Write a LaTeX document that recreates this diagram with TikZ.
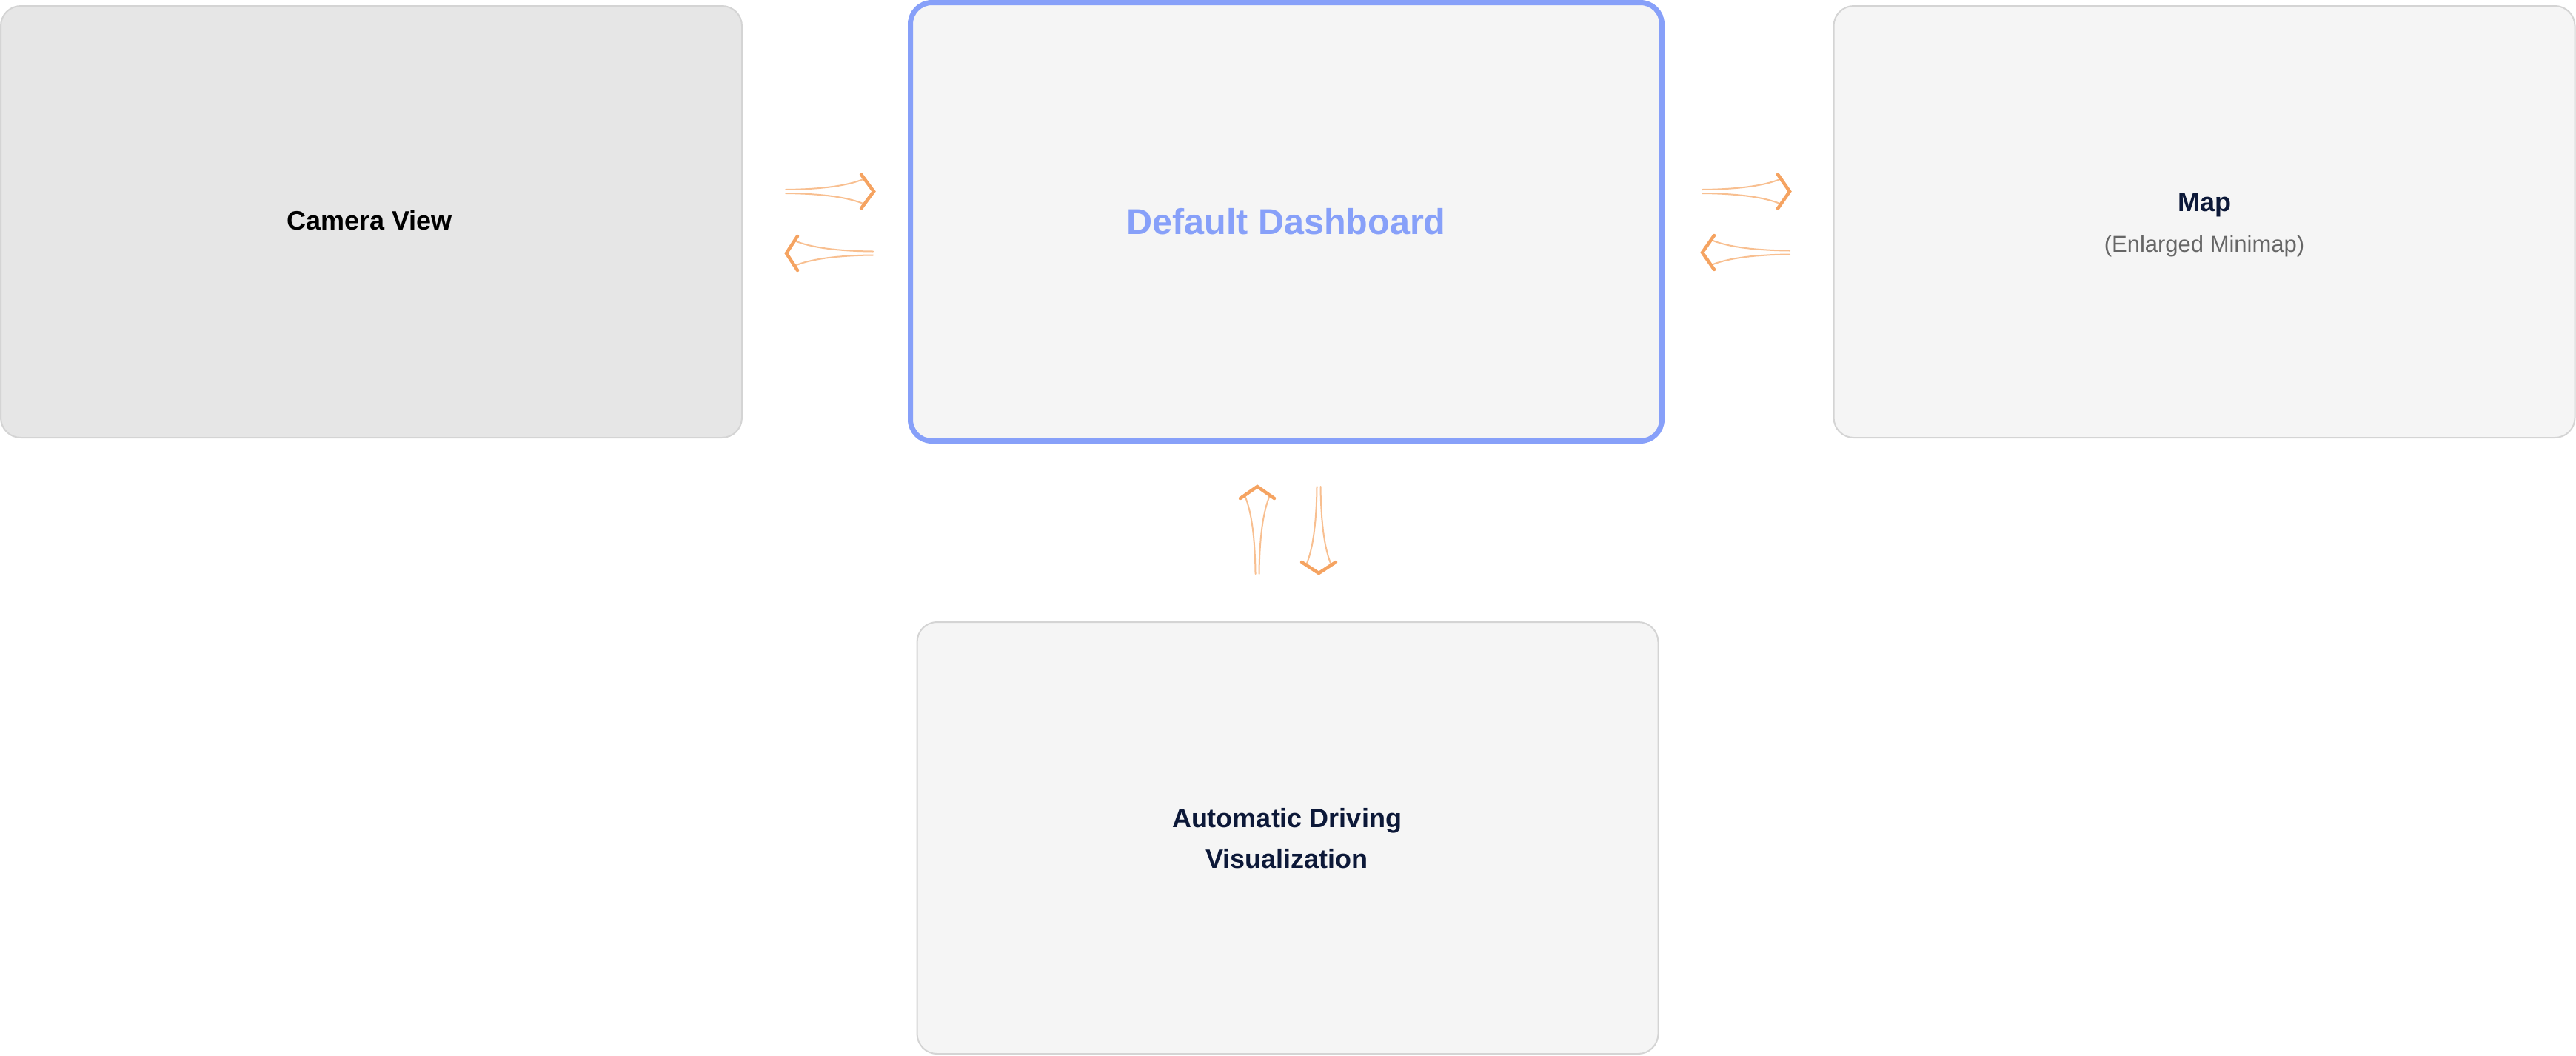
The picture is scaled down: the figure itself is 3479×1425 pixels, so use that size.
\documentclass[tikz,border=0pt]{standalone}
\usepackage{fontspec}
\setmainfont{Liberation Sans}
\usetikzlibrary{calc}
\definecolor{boxline}{RGB}{212,212,212}
\definecolor{boxfill}{RGB}{245,245,245}
\definecolor{camfill}{RGB}{230,230,230}
\definecolor{accent}{RGB}{135,160,249}
\definecolor{navy}{RGB}{12,24,56}
\definecolor{subgray}{RGB}{102,102,102}
\definecolor{arrowc}{RGB}{245,163,97}
\tikzset{
  panel/.style={draw=boxline, line width=2pt, fill=boxfill, rounded corners=27pt,
    minimum width=1001pt, minimum height=583pt, inner sep=0pt},
  mainpanel/.style={draw=accent, line width=7pt, fill=boxfill, rounded corners=29pt,
    minimum width=1015pt, minimum height=592pt, inner sep=0pt},
  boldlbl/.style={font=\fontsize{36}{55}\selectfont\bfseries, text=navy, anchor=base, inner sep=0pt, align=center},
  sublbl/.style={font=\fontsize{31}{40}\selectfont, text=subgray, anchor=base, inner sep=0pt},
  tbody/.style={draw=arrowc!70!white, line width=2pt, line cap=round,
    to path={
      ($(\tikztostart)!2.5pt!90:(\tikztotarget)$)
        .. controls ($(\tikztostart)!50pt!(\tikztotarget)!3pt!90:(\tikztotarget)$)
        and ($(\tikztostart)!85pt!(\tikztotarget)!8pt!90:(\tikztotarget)$)
        .. ($(\tikztostart)!106pt!(\tikztotarget)!17pt!90:(\tikztotarget)$)
      ($(\tikztostart)!2.5pt!-90:(\tikztotarget)$)
        .. controls ($(\tikztostart)!50pt!(\tikztotarget)!3pt!-90:(\tikztotarget)$)
        and ($(\tikztostart)!85pt!(\tikztotarget)!8pt!-90:(\tikztotarget)$)
        .. ($(\tikztostart)!106pt!(\tikztotarget)!17pt!-90:(\tikztotarget)$)
    }},
  thead/.style={draw=arrowc, line width=4.5pt, line cap=round, line join=miter,
    to path={
      ($(\tikztostart)!102pt!(\tikztotarget)!23pt!90:(\tikztotarget)$)
        -- (\tikztotarget)
        -- ($(\tikztostart)!102pt!(\tikztotarget)!23pt!-90:(\tikztotarget)$)
    }}
}
\newcommand{\taperarrow}[2]{\draw[tbody] (#1) to (#2); \draw[thead] (#1) to (#2);}
\begin{document}
\begin{tikzpicture}[x=1pt,y=-1pt]
\useasboundingbox (0,0) rectangle (3479,1425);
% panels
\node[panel, fill=camfill] (cam) at (501.5,299.5) {};
\node[mainpanel] (dash) at (1737,299.5) {};
\node[panel] (map) at (2977,299.5) {};
\node[panel] (vis) at (1739,1131.5) {};
% labels
\node[boldlbl, text=black] (camlbl) at (499,310) {Camera View};
\node[boldlbl, text=accent, font=\fontsize{48.5}{58}\selectfont\bfseries] (dashlbl) at (1737,316) {Default Dashboard};
\node[boldlbl] (maplbl) at (2977,285) {Map};
\node[sublbl] (mapsub) at (2977,340) {(Enlarged Minimap)};
\node[boldlbl] (vislbl1) at (1738,1117) {Automatic Driving};
\node[boldlbl] (vislbl2) at (1738,1172) {Visualization};
% arrow end points
\coordinate (cd-s) at (1061,258.5);
\coordinate (cd-e) at (1180,258.5);
\coordinate (dc-s) at (1179,342);
\coordinate (dc-e) at (1062,342);
\coordinate (dm-s) at (2299,258.5);
\coordinate (dm-e) at (2417,258.5);
\coordinate (md-s) at (2417,341);
\coordinate (md-e) at (2299,341);
\coordinate (vd-s) at (1698,775);
\coordinate (vd-e) at (1698,657);
\coordinate (dv-s) at (1781,657);
\coordinate (dv-e) at (1781,774);
\taperarrow{cd-s}{cd-e}
\taperarrow{dc-s}{dc-e}
\taperarrow{dm-s}{dm-e}
\taperarrow{md-s}{md-e}
\taperarrow{vd-s}{vd-e}
\taperarrow{dv-s}{dv-e}
\end{tikzpicture}
\end{document}
